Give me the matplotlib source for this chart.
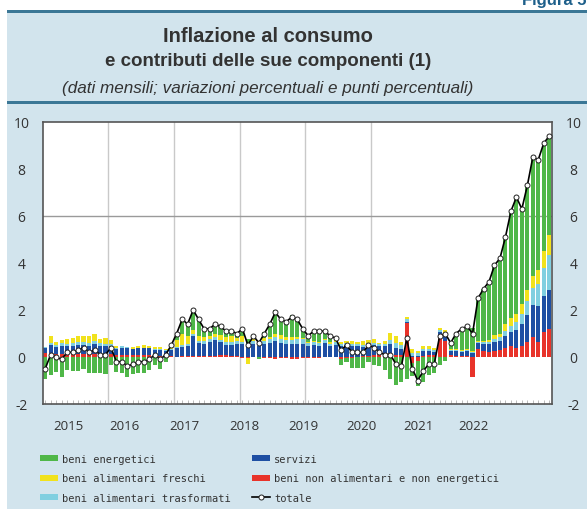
import numpy as np
import matplotlib.pyplot as plt
from matplotlib.patches import Rectangle
from matplotlib.lines import Line2D

plt.rcParams['axes.unicode_minus'] = False

# monthly data, Jan 2015 - Sep 2022 (contributions, percentage points)
years = ['2015', '2016', '2017', '2018', '2019', '2020', '2021', '2022']

non_energetici = [
    0.15, 0.15, 0.14, 0.13, 0.12, 0.12, 0.11, 0.12, 0.13, 0.14, 0.13, 0.12,
    0.12, 0.10, 0.10, 0.08, 0.08, 0.08, 0.07, 0.07, 0.06, 0.05, 0.05, 0.05,
    0.02, 0.03, 0.03, 0.05, 0.05, 0.06, 0.05, 0.06, 0.07, 0.07, 0.06, 0.05,
    -0.03, -0.03, -0.02, -0.02, -0.05, -0.05, -0.08, -0.06, -0.06, -0.08, -0.07, -0.06,
    -0.05, -0.03, -0.03, -0.02, -0.02, -0.02, -0.10, -0.05, -0.03, 0.02, 0.03, 0.05,
    0.10, 0.10, 0.15, 0.15, 0.10, 0.10, 1.45, -0.25, -0.15, 0.05, 0.10, 0.10,
    0.85, 0.70, 0.10, 0.05, 0.05, 0.05, -0.85, 0.35, 0.25, 0.20, 0.25, 0.30,
    0.40, 0.45, 0.40, 0.45, 0.65, 0.85, 0.65, 1.05, 1.20]

servizi = [
    0.25, 0.35, 0.30, 0.35, 0.35, 0.35, 0.40, 0.40, 0.35, 0.40, 0.35, 0.35,
    0.35, 0.25, 0.30, 0.30, 0.25, 0.30, 0.30, 0.30, 0.25, 0.25, 0.20, 0.25,
    0.35, 0.40, 0.45, 0.85, 0.55, 0.50, 0.60, 0.65, 0.55, 0.45, 0.45, 0.50,
    0.55, 0.50, 0.55, 0.45, 0.55, 0.60, 0.70, 0.60, 0.55, 0.55, 0.55, 0.55,
    0.45, 0.50, 0.45, 0.60, 0.45, 0.50, 0.45, 0.50, 0.45, 0.45, 0.40, 0.45,
    0.40, 0.35, 0.30, 0.40, 0.30, 0.25, 0.05, 0.05, 0.05, 0.20, 0.15, 0.10,
    0.20, 0.20, 0.15, 0.20, 0.15, 0.20, 0.15, 0.25, 0.30, 0.35, 0.40, 0.40,
    0.50, 0.60, 0.75, 0.95, 1.15, 1.35, 1.50, 1.55, 1.65]

trasformati = [
    0.03, 0.08, 0.08, 0.10, 0.10, 0.12, 0.12, 0.12, 0.12, 0.12, 0.10, 0.10,
    0.10, 0.05, 0.05, 0.03, 0.03, 0.02, 0.02, 0.02, 0.02, 0.03, 0.03, 0.05,
    0.05, 0.08, 0.08, 0.08, 0.10, 0.10, 0.10, 0.12, 0.12, 0.12, 0.12, 0.12,
    0.10, 0.10, 0.12, 0.12, 0.15, 0.15, 0.15, 0.18, 0.18, 0.18, 0.20, 0.20,
    0.15, 0.15, 0.15, 0.12, 0.12, 0.12, 0.10, 0.10, 0.10, 0.08, 0.08, 0.08,
    0.10, 0.10, 0.12, 0.18, 0.18, 0.15, 0.12, 0.12, 0.10, 0.10, 0.08, 0.08,
    0.08, 0.10, 0.05, 0.05, 0.05, 0.05, 0.05, 0.05, 0.08, 0.10, 0.12, 0.15,
    0.20, 0.25, 0.35, 0.45, 0.60, 0.75, 0.95, 1.20, 1.50]

freschi = [
    0.00, 0.30, 0.10, 0.15, 0.20, 0.20, 0.25, 0.25, 0.30, 0.30, 0.20, 0.25,
    0.15, 0.05, 0.03, 0.03, 0.05, 0.08, 0.10, 0.08, 0.10, 0.08, 0.05, 0.05,
    0.30, 0.45, 0.35, 0.15, 0.20, 0.20, 0.15, 0.15, 0.20, 0.20, 0.25, 0.15,
    0.25, -0.25, 0.15, 0.10, 0.10, 0.10, 0.15, 0.15, 0.10, 0.12, 0.12, 0.05,
    0.05, 0.05, 0.05, 0.05, 0.08, 0.10, 0.10, 0.10, 0.12, 0.10, 0.15, 0.15,
    0.15, 0.05, 0.10, 0.30, 0.30, 0.15, 0.10, 0.15, 0.10, 0.10, 0.15, 0.12,
    0.12, 0.15, 0.05, 0.05, 0.05, 0.05, 0.05, 0.05, 0.05, 0.08, 0.15, 0.15,
    0.30, 0.35, 0.35, 0.40, 0.45, 0.50, 0.60, 0.70, 0.85]

energetici = [
    -0.93, -0.78, -0.62, -0.83, -0.57, -0.59, -0.58, -0.49, -0.70, -0.66, -0.68, -0.72,
    -0.32, -0.65, -0.68, -0.84, -0.71, -0.68, -0.69, -0.57, -0.33, -0.51, -0.23, 0.10,
    0.28, 0.64, 0.49, 0.87, 0.70, 0.34, 0.30, 0.42, 0.36, 0.26, 0.22, 0.18,
    0.33, 0.18, 0.10, -0.05, 0.25, 0.60, 0.98, 0.73, 0.73, 0.93, 0.80, 0.46,
    0.30, 0.43, 0.48, 0.35, 0.27, 0.10, -0.25, -0.15, -0.44, -0.45, -0.46, -0.23,
    -0.35, -0.40, -0.57, -0.93, -1.18, -1.05, -0.92, -0.57, -1.10, -1.05, -0.78, -0.70,
    -0.35, -0.15, 0.25, 0.65, 0.90, 0.95, 1.00, 1.80, 2.22, 2.47, 2.98, 3.20,
    3.70, 4.55, 4.95, 4.05, 4.45, 5.05, 4.70, 4.60, 4.20]

totale = [
    -0.5, 0.1, 0.0, -0.1, 0.2, 0.2, 0.3, 0.4, 0.2, 0.3, 0.1, 0.1,
    0.4, -0.2, -0.2, -0.4, -0.3, -0.2, -0.2, -0.1, 0.1, -0.1, 0.1, 0.5,
    1.0, 1.6, 1.4, 2.0, 1.6, 1.2, 1.2, 1.4, 1.3, 1.1, 1.1, 1.0,
    1.2, 0.5, 0.9, 0.6, 1.0, 1.4, 1.9, 1.6, 1.5, 1.7, 1.6, 1.2,
    0.9, 1.1, 1.1, 1.1, 0.9, 0.8, 0.3, 0.5, 0.2, 0.2, 0.2, 0.5,
    0.4, 0.2, 0.1, 0.1, -0.3, -0.4, 0.8, -0.5, -1.0, -0.6, -0.3, -0.3,
    0.9, 1.0, 0.6, 1.0, 1.2, 1.3, 1.0, 2.5, 2.9, 3.2, 3.9, 4.2,
    5.1, 6.2, 6.8, 6.3, 7.3, 8.5, 8.4, 9.1, 9.4]

BG = '#d2e4ed'
LINE = '#3b7796'
TXT = '#333333'
TICKFONT = 'Open Sans'

fig = plt.figure(figsize=(5.87, 5.10), dpi=100, facecolor='white')
W, H = 587.0, 510.0

# panel background and header rules (behind the axes)
fig.patches.append(Rectangle((7 / W, 0), 1, 1 - 12 / H, transform=fig.transFigure,
                             facecolor=BG, edgecolor='none', zorder=-10))
fig.patches.append(Rectangle((7 / W, 1 - 14 / H), 1, 3 / H, transform=fig.transFigure,
                             facecolor=LINE, edgecolor='none', zorder=-5))
fig.patches.append(Rectangle((7 / W, 1 - 105 / H), 1, 3 / H, transform=fig.transFigure,
                             facecolor=LINE, edgecolor='none', zorder=-5))

fig.text(522 / W, 1 - 5 / H, 'Figura 5c', color='#1d5f8a', fontsize=12,
         fontweight='bold', family='Liberation Sans', va='baseline')
fig.text(268 / W, 1 - 37 / H, 'Inflazione al consumo', ha='center', va='center',
         fontsize=14.5, fontweight='bold', color=TXT, family='Liberation Sans')
fig.text(268 / W, 1 - 62 / H, 'e contributi delle sue componenti (1)', ha='center',
         va='center', fontsize=13.5, fontweight='bold', color=TXT, family='Liberation Sans')
fig.text(268 / W, 1 - 88 / H, '(dati mensili; variazioni percentuali e punti percentuali)',
         ha='center', va='center', fontsize=12.3, style='italic', color=TXT,
         family='Liberation Sans')

ax = fig.add_axes([43 / W, 1 - 405 / H, 509 / W, 282 / H], zorder=1)
ax.set_facecolor('white')

x = np.arange(len(totale))
comps = [
    (non_energetici, '#e8332a', 'beni non alimentari e non energetici'),
    (servizi, '#1e4fa3', 'servizi'),
    (trasformati, '#80cfe0', 'beni alimentari trasformati'),
    (freschi, '#f1e21c', 'beni alimentari freschi'),
    (energetici, '#4fb748', 'beni energetici'),
]
pos = np.zeros(len(x))
neg = np.zeros(len(x))
handles = {}
for vals, col, lab in comps:
    v = np.array(vals)
    bottom = np.where(v >= 0, pos, neg)
    handles[lab] = ax.bar(x, v, bottom=bottom, width=0.75, color=col, zorder=2, label=lab)
    pos += np.clip(v, 0, None)
    neg += np.clip(v, None, 0)

ax.plot(x, totale, color='black', lw=1.2, marker='o', ms=3.6, mfc='white',
        mec='#222222', mew=0.7, zorder=3)

# year boundary grid lines (through 2020) and line at 6
for k in range(1, 6):
    ax.axvline(12 * k - 0.5, color='#c9c9c9', lw=1, zorder=1)
ax.axhline(6, color='#9a9a9a', lw=1, zorder=1)

ax.set_xlim(-0.4, 92.5)
ax.set_ylim(-2, 10)
ax.set_yticks([-2, 0, 2, 4, 6, 8, 10])
ax.tick_params(axis='y', length=0, pad=15.5, labelsize=10, labelcolor=TXT,
               labelleft=True, labelright=True)
for t in ax.yaxis.get_major_ticks():
    t.label1.set_horizontalalignment('center')
    t.label2.set_horizontalalignment('center')
    t.label1.set_family(TICKFONT)
    t.label2.set_family(TICKFONT)

year_pos = [4.2, 14.4, 25.5, 36.3, 47.1, 57.7, 68.2, 78.1]
ax.set_xticks(year_pos)
ax.set_xticklabels(years, family=TICKFONT)
ax.set_xticks(x, minor=True)
ax.tick_params(axis='x', which='major', length=0, pad=11, labelsize=9.5, labelcolor=TXT)
ax.tick_params(axis='x', which='minor', direction='in', length=3, width=0.6, color='#b0b0b0')
for s in ax.spines.values():
    s.set_color('#555555')
    s.set_linewidth(1.2)

tot_handle = Line2D([], [], color='black', lw=1.2, marker='o', ms=3.6, mfc='white',
                    mec='#222222', mew=0.7)
order = ['beni energetici', 'beni alimentari freschi', 'beni alimentari trasformati',
         'servizi', 'beni non alimentari e non energetici']
leg_h = [handles[k] for k in order] + [tot_handle]
leg_l = order + ['totale']
fig.legend(leg_h, leg_l, loc='upper left', bbox_to_anchor=(40 / W, 1 - 455 / H),
           ncol=2, frameon=False, prop={'family': 'DejaVu Sans Mono', 'size': 7.5},
           labelcolor=TXT, handlelength=1.75, handleheight=0.55, handletextpad=0.4,
           columnspacing=2.0, labelspacing=0.9, borderpad=0, borderaxespad=0)

fig.savefig('out.png', dpi=100, facecolor=fig.get_facecolor())
